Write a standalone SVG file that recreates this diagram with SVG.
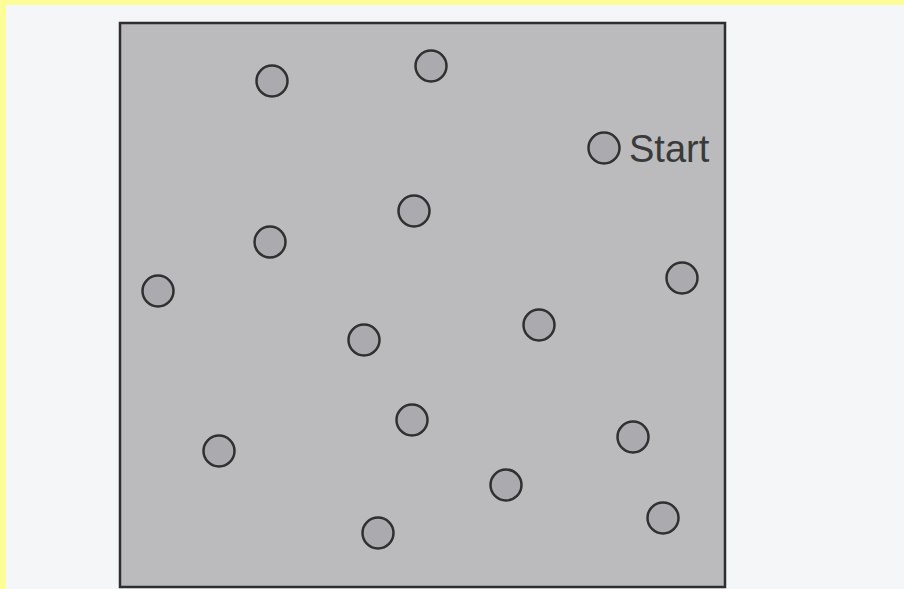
<svg xmlns="http://www.w3.org/2000/svg" width="904" height="589" viewBox="0 0 904 589">
<style>
.dot{fill:#ababaf;stroke:#303030;stroke-width:2.5}
.lbl{font-family:"Liberation Sans",Arial,sans-serif;font-size:38px;fill:#3a3a3a}
</style>
<rect x="0" y="0" width="904" height="589" fill="#f5f6f8"/>
<rect x="0" y="0" width="904" height="5" fill="#fdfd98"/>
<rect x="0" y="0" width="6" height="589" fill="#fdfd98"/>
<g id="field">
<rect x="120" y="23" width="605" height="564" fill="#bbbbbe" stroke="#2e2e2e" stroke-width="2.5"/>
</g>
<g id="connectors"></g>
<g id="n1"><circle class="dot" cx="272" cy="81" r="15.5"/></g>
<g id="n2"><circle class="dot" cx="431" cy="66" r="15.5"/></g>
<g id="start"><circle class="dot" cx="604" cy="148" r="15.5"/><text class="lbl" x="629" y="162">Start</text></g>
<g id="n3"><circle class="dot" cx="414" cy="211" r="15.5"/></g>
<g id="n4"><circle class="dot" cx="270" cy="242" r="15.5"/></g>
<g id="n5"><circle class="dot" cx="158" cy="291" r="15.5"/></g>
<g id="n6"><circle class="dot" cx="682" cy="278" r="15.5"/></g>
<g id="n7"><circle class="dot" cx="364" cy="340" r="15.5"/></g>
<g id="n8"><circle class="dot" cx="539" cy="325" r="15.5"/></g>
<g id="n9"><circle class="dot" cx="412" cy="420" r="15.5"/></g>
<g id="n10"><circle class="dot" cx="219" cy="451" r="15.5"/></g>
<g id="n11"><circle class="dot" cx="633" cy="437" r="15.5"/></g>
<g id="n12"><circle class="dot" cx="506" cy="485" r="15.5"/></g>
<g id="n13"><circle class="dot" cx="378" cy="533" r="15.5"/></g>
<g id="n14"><circle class="dot" cx="663" cy="518" r="15.5"/></g>
</svg>
